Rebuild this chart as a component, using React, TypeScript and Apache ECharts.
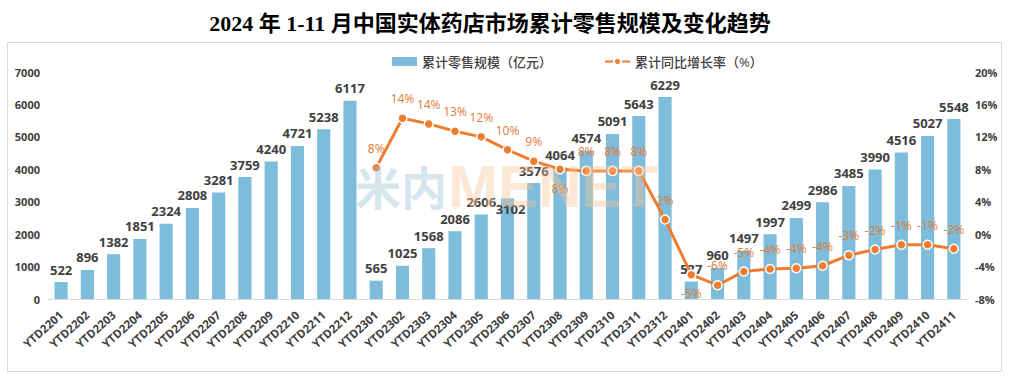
import React, { useEffect, useRef } from "react";
import * as echarts from "echarts";

const categories = [
  "YTD2201","YTD2202","YTD2203","YTD2204","YTD2205","YTD2206","YTD2207","YTD2208","YTD2209","YTD2210","YTD2211","YTD2212",
  "YTD2301","YTD2302","YTD2303","YTD2304","YTD2305","YTD2306","YTD2307","YTD2308","YTD2309","YTD2310","YTD2311","YTD2312",
  "YTD2401","YTD2402","YTD2403","YTD2404","YTD2405","YTD2406","YTD2407","YTD2408","YTD2409","YTD2410","YTD2411",
];

const salesValues = [
  522, 896, 1382, 1851, 2324, 2808, 3281, 3759, 4240, 4721, 5238, 6117,
  565, 1025, 1568, 2086, 2606, 3102, 3576, 4064, 4574, 5091, 5643, 6229,
  537, 960, 1497, 1997, 2499, 2986, 3485, 3990, 4516, 5027, 5548,
];

const growthValues: (number | null)[] = [
  null, null, null, null, null, null, null, null, null, null, null, null,
  8.2, 14.3, 13.6, 12.7, 12.0, 10.4, 9.0, 8.0, 7.8, 7.8, 7.8, 1.8,
  -5.0, -6.3, -4.6, -4.3, -4.2, -3.9, -2.6, -1.9, -1.3, -1.3, -1.8,
];

const growthLabelBelow = ["YTD2308", "YTD2401"];

const leftTicks = { min: 0, max: 7000, interval: 1000 };
const rightTicks = { min: -8, max: 20, interval: 4 };

const titleText = "2024 年 1-11 月中国实体药店市场累计零售规模及变化趋势";
const barName = "累计零售规模（亿元）";
const lineName = "累计同比增长率（%）";

export default function App() {
  const ref = useRef<HTMLDivElement>(null);
  useEffect(() => {
    document.body.style.margin = "0";
    const chart = echarts.init(ref.current!, undefined, { renderer: "svg" });
    const sans = "'Open Sans', 'Noto Sans CJK SC', sans-serif";
    const barData = salesValues.map((v, i) =>
      categories[i] === "YTD2306"
        ? { value: v, label: { offset: [3, 23] } }
        : v
    );
    const lineData = growthValues.map((v, i) =>
      growthLabelBelow.includes(categories[i])
        ? { value: v, label: { position: "bottom", distance: 8 } }
        : v
    );
    chart.setOption({
      animation: false,
      backgroundColor: "#ffffff",
      title: {
        text: titleText,
        left: 485,
        top: 7,
        textAlign: "center",
        textStyle: {
          fontFamily: "'Liberation Serif', 'Noto Sans CJK SC', serif",
          fontSize: 22,
          fontWeight: "bold",
          color: "#000000",
        },
      },
      graphic: [
        {
          type: "rect",
          shape: { x: 7.5, y: 42.5, width: 994, height: 329 },
          style: { fill: "none", stroke: "#d9d9d9", lineWidth: 1 },
          z: 0,
        },
        {
          type: "text",
          left: 355,
          top: 162,
          z: 100,
          style: {
            text: "米内",
            fontSize: 46,
            fontWeight: "bold",
            fontFamily: "'Noto Sans CJK SC', sans-serif",
            fill: "rgba(160,198,212,0.45)",
          },
        },
        {
          type: "text",
          left: 448,
          top: 156,
          z: 100,
          style: {
            text: "MENET",
            fontSize: 60,
            fontWeight: "bold",
            fontFamily: "'Liberation Sans', sans-serif",
            fill: "rgba(250,196,150,0.4)",
          },
        },
      ],
      legend: {
        top: 50,
        left: 387,
        itemGap: 52,
        itemWidth: 25,
        itemHeight: 9,
        textStyle: { fontSize: 13, color: "#404040", fontFamily: sans, fontWeight: 500 },
        data: [
          { name: barName, icon: "rect" },
          { name: lineName },
        ],
      },
      grid: { left: 48, right: 44, top: 72, bottom: 78 },
      xAxis: {
        type: "category",
        data: categories,
        axisTick: { show: false },
        axisLine: { lineStyle: { color: "#d9d9d9" } },
        axisLabel: {
          rotate: 42,
          interval: 0,
          margin: 14,
          fontSize: 11.5,
          fontWeight: "bold",
          color: "#404040",
          fontFamily: sans,
        },
      },
      yAxis: [
        {
          type: "value",
          ...leftTicks,
          splitLine: { show: false },
          axisLine: { show: false },
          axisTick: { show: false },
          axisLabel: {
            formatter: (v: number) => String(v),
            fontSize: 11,
            fontWeight: "bold",
            color: "#404040",
            fontFamily: sans,
            margin: 8,
          },
        },
        {
          type: "value",
          ...rightTicks,
          splitLine: { show: false },
          axisLine: { show: false },
          axisTick: { show: false },
          axisLabel: {
            formatter: "{value}%",
            fontSize: 11,
            fontWeight: "bold",
            color: "#404040",
            fontFamily: sans,
            margin: 8,
          },
        },
      ],
      series: [
        {
          name: barName,
          type: "bar",
          data: barData,
          barWidth: "50%",
          itemStyle: { color: "#7dbcda" },
          label: {
            show: true,
            position: "top",
            distance: 6,
            fontSize: 13,
            fontWeight: "bold",
            color: "#404040",
            fontFamily: sans,
          },
          z: 2,
        },
        {
          name: lineName,
          type: "line",
          yAxisIndex: 1,
          data: lineData,
          symbol: "circle",
          symbolSize: 9,
          connectNulls: false,
          lineStyle: { color: "#ed7d31", width: 3 },
          itemStyle: { color: "#ed7d31", borderColor: "#ffffff", borderWidth: 1.5 },
          label: {
            show: true,
            position: "top",
            distance: 8,
            fontSize: 12,
            color: "#e07b34",
            textBorderWidth: 0,
            fontFamily: sans,
            formatter: (p: any) =>
              p.value == null ? "" : Math.round(p.value) + "%",
          },
          z: 3,
        },
      ],
    });
    return () => chart.dispose();
  }, []);
  return <div ref={ref} style={{ width: 1011, height: 377 }} />;
}
